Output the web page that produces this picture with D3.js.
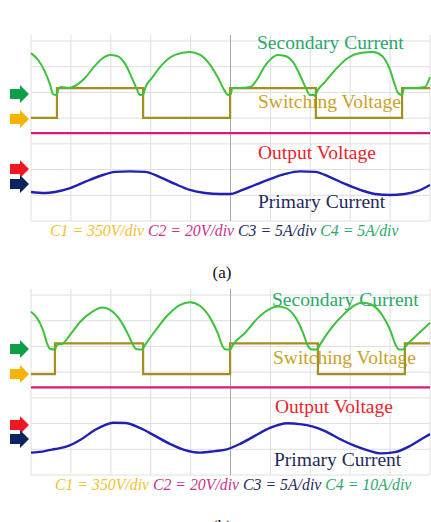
<!DOCTYPE html>
<meta charset="utf-8">
<script src="https://d3js.org/d3.v7.min.js"></script>
<style>
body { margin: 0; background: #fff; }
svg text { font-family: "Liberation Serif", "Times New Roman", serif; }
</style>
<div id="chart"></div>
<script>

// scope readings, time in divisions (0..10), level in divisions (0..7 visible)
var secondaryA = [[0,6.53],[0.18,6.26],[0.35,5.80],[0.48,5.29],[0.55,4.94],[0.63,4.90],[0.67,5.02],[0.69,5.17],[0.78,5.21],[0.93,5.17],[1.10,5.25],[1.35,5.56],[1.60,6.03],[1.80,6.34],[1.98,6.46],[2.16,6.42],[2.36,6.11],[2.53,5.56],[2.66,5.10],[2.73,4.90],[2.81,4.90],[2.86,5.17],[3.03,5.56],[3.28,6.07],[3.61,6.46],[3.98,6.57],[4.24,6.46],[4.49,6.07],[4.69,5.56],[4.84,5.10],[4.94,4.90],[5.01,4.94],[5.04,5.17],[5.24,5.17],[5.49,5.21],[5.69,5.56],[5.86,6.03],[6.04,6.34],[6.17,6.46],[6.37,6.42],[6.57,6.18],[6.74,5.68],[6.89,5.17],[6.99,4.90],[7.12,4.90],[7.19,5.10],[7.37,5.41],[7.62,5.87],[7.94,6.34],[8.25,6.53],[8.57,6.57],[8.80,6.42],[9.00,5.87],[9.12,5.29],[9.20,4.98],[9.30,4.90],[9.35,5.17],[9.62,5.17],[9.87,5.21],[10,5.60]];
var switchingA = [[0,4.01],[0.65,4.01],[0.65,5.17],[2.81,5.17],[2.81,4.01],[4.99,4.01],[4.99,5.17],[7.14,5.17],[7.14,4.01],[9.30,4.01],[9.30,5.17],[10,5.17]];
var outputA = [[0,3.42],[10,3.42]];
var primaryA = [[0,1.13],[0.35,1.09],[0.60,1.13],[0.98,1.28],[1.35,1.52],[1.73,1.75],[2.11,1.91],[2.48,1.93],[2.86,1.91],[3.23,1.71],[3.61,1.44],[3.98,1.21],[4.36,1.09],[4.74,1.05],[4.99,1.05],[5.24,1.17],[5.61,1.40],[5.99,1.63],[6.37,1.83],[6.74,1.93],[7.12,1.91],[7.49,1.71],[7.87,1.44],[8.25,1.21],[8.62,1.05],[9.00,1.01],[9.37,1.05],[9.70,1.17],[10,1.40]];

var secondaryB = [[0,6.35],[0.15,6.11],[0.30,5.64],[0.40,5.13],[0.48,4.90],[0.60,4.88],[0.65,5.06],[0.78,5.10],[0.98,5.45],[1.23,5.95],[1.53,6.34],[1.78,6.51],[1.98,6.42],[2.23,6.03],[2.43,5.48],[2.56,5.06],[2.63,4.90],[2.78,4.88],[2.86,5.06],[3.11,5.60],[3.43,6.22],[3.73,6.61],[3.98,6.72],[4.24,6.57],[4.49,6.11],[4.69,5.48],[4.81,4.98],[4.89,4.88],[4.99,4.88],[5.06,5.06],[5.36,5.52],[5.69,6.11],[5.99,6.46],[6.17,6.55],[6.37,6.50],[6.62,6.15],[6.82,5.52],[6.94,5.02],[7.04,4.88],[7.17,4.88],[7.24,5.06],[7.49,5.64],[7.87,6.30],[8.12,6.61],[8.30,6.70],[8.55,6.61],[8.80,6.22],[9.00,5.64],[9.15,5.02],[9.22,4.88],[9.32,4.88],[9.42,5.06],[9.70,5.48],[10,5.92]];
var switchingB = [[0,3.92],[0.60,3.92],[0.60,5.12],[2.81,5.12],[2.81,3.92],[4.99,3.92],[4.99,5.12],[7.19,5.12],[7.19,3.92],[9.37,3.92],[9.37,5.12],[10,5.12]];
var outputB = [[0,3.41],[10,3.41]];
var primaryB = [[0,0.87],[0.35,0.93],[0.60,1.01],[0.90,1.11],[1.23,1.36],[1.60,1.75],[1.85,1.94],[2.06,2.03],[2.36,2.02],[2.73,1.83],[3.11,1.52],[3.48,1.21],[3.86,0.97],[4.24,0.87],[4.61,0.93],[4.91,1.00],[5.24,1.21],[5.61,1.52],[5.99,1.83],[6.42,2.01],[6.74,1.98],[7.07,1.88],[7.37,1.71],[7.74,1.40],[8.12,1.13],[8.50,0.93],[8.75,0.84],[9.12,0.89],[9.50,1.13],[9.75,1.36],[10,1.59]];

// channel reference markers (divisions)
var markersA = [4.94, 3.97, 2.02, 1.44];
var markersB = [4.90, 3.93, 1.94, 1.40];

var traceNames = ["Secondary Current", "Switching Voltage", "Output Voltage", "Primary Current"];
var captionA = ["C1 = 350V/div", "C2 = 20V/div", "C3 = 5A/div", "C4 = 5A/div"];
var captionB = ["C1 = 350V/div", "C2 = 20V/div", "C3 = 5A/div", "C4 = 10A/div"];
var panelTitles = ["(a)", "(b)"];

var W = 431, H = 522;
var svg = d3.select("#chart").append("svg")
  .attr("width", W).attr("height", H);

var x = d3.scaleLinear().domain([0, 10]).range([31, 430]);

var traceColors = ["#3cc23c", "#a38e1e", "#d81c72", "#2020b4"];
var labelColors = ["#2aa86a", "#c9a22a", "#e8242b", "#1f2b5c"];
var markerColors = ["#0f9f4a", "#f6b400", "#f01820", "#0c2460"];
var captionColors = ["#f0c232", "#c8328c", "#1f2b5c", "#2aa86a"];

function drawPanel(p) {
  var y = d3.scaleLinear().domain([0, 7]).range([p.top + 180, p.top]);
  var g = svg.append("g");

  // grid
  g.selectAll(".hgrid").data(d3.range(0, 8))
    .enter().append("line")
      .attr("x1", x(0)).attr("x2", x(10))
      .attr("y1", function(d) { return y(d); })
      .attr("y2", function(d) { return y(d); })
      .style("stroke", "#dedede").style("stroke-width", 1);
  g.selectAll(".vgrid").data(d3.range(0, 11))
    .enter().append("line")
      .attr("x1", function(d) { return x(d); })
      .attr("x2", function(d) { return x(d); })
      .attr("y1", p.top - 6).attr("y2", y(0))
      .style("stroke", function(d) { return d == 5 ? "#a8a8a8" : "#dedede"; })
      .style("stroke-width", 1);

  // labels
  g.selectAll(".lbl").data(traceNames)
    .enter().append("text")
      .attr("x", function(d, i) { return p.labelX[i]; })
      .attr("y", function(d, i) { return p.labelY[i]; })
      .style("font-size", "19.5px")
      .style("fill", function(d, i) { return labelColors[i]; })
      .text(function(d) { return d; });

  // traces
  var smooth = d3.line()
    .x(function(d) { return x(d[0]); })
    .y(function(d) { return y(d[1]); })
    .curve(d3.curveMonotoneX);
  var step = d3.line()
    .x(function(d) { return x(d[0]); })
    .y(function(d) { return y(d[1]); });

  g.append("path").datum(p.output)
    .attr("d", step).style("fill", "none")
    .style("stroke", traceColors[2]).style("stroke-width", 2.2);
  g.append("path").datum(p.primary)
    .attr("d", smooth).style("fill", "none")
    .style("stroke", traceColors[3]).style("stroke-width", 2.4);
  g.append("path").datum(p.switching)
    .attr("d", step).style("fill", "none")
    .style("stroke", traceColors[1]).style("stroke-width", 2.2);
  g.append("path").datum(p.secondary)
    .attr("d", smooth).style("fill", "none")
    .style("stroke", traceColors[0]).style("stroke-width", 2);

  // reference arrows
  g.selectAll(".mk").data(p.markers)
    .enter().append("path")
      .attr("d", function(d) {
        var c = y(d);
        return "M10," + (c - 5) + "L20," + (c - 5) + "L20," + (c - 9) + "L29," + c +
               "L20," + (c + 9) + "L20," + (c + 5) + "L10," + (c + 5) + "Z";
      })
      .style("fill", function(d, i) { return markerColors[i]; });

  // caption
  var cap = g.append("text")
    .attr("x", p.capX).attr("y", p.capY)
    .style("font-size", "15.8px").style("font-style", "italic");
  p.caption.forEach(function(c, i) {
    cap.append("tspan")
      .style("fill", captionColors[i])
      .text((i > 0 ? " " : "") + c);
  });

  g.append("text")
    .attr("x", 222).attr("y", p.titleY)
    .attr("text-anchor", "middle")
    .style("font-size", "17px").style("fill", "#111")
    .text(p.title);
}

drawPanel({
  top: 41, secondary: secondaryA, switching: switchingA, output: outputA, primary: primaryA,
  markers: markersA, caption: captionA, title: panelTitles[0],
  labelX: [257, 258, 258, 258], labelY: [49, 108, 159, 208],
  capX: 50, capY: 236, titleY: 278
});
drawPanel({
  top: 295, secondary: secondaryB, switching: switchingB, output: outputB, primary: primaryB,
  markers: markersB, caption: captionB, title: panelTitles[1],
  labelX: [272, 273, 275, 274], labelY: [306, 364, 413, 466],
  capX: 55, capY: 490, titleY: 532
});

</script>
